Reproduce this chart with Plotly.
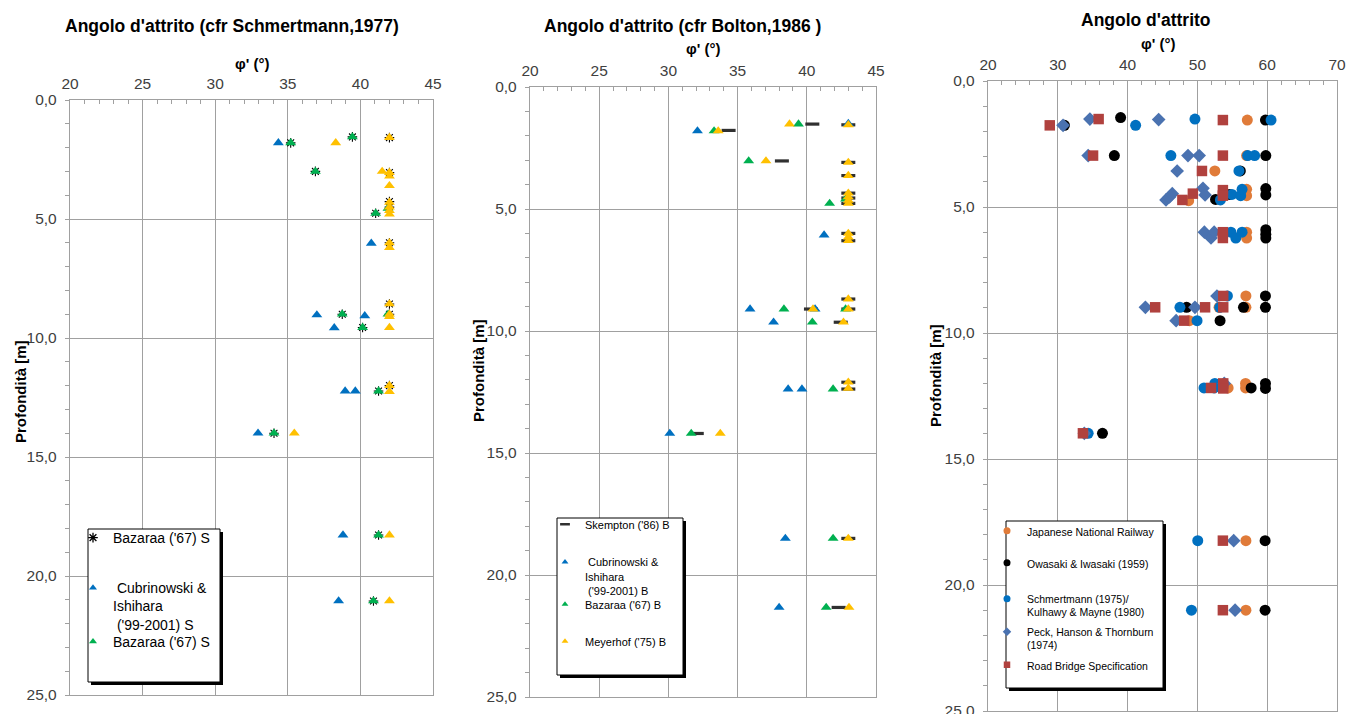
import plotly.graph_objects as go

W, H = 1348, 714
FONT = "Arial, Liberation Sans, sans-serif"

# ---------------- Panel 1: Schmertmann (1977) ----------------
P1_AST_PHI = [35.2, 39.45, 42.0, 36.9, 42.0, 42.0, 42.0, 41.05, 42.0, 42.0, 38.75, 42.0, 40.15, 42.0, 41.25, 34.05, 41.25, 40.9]
P1_AST_Z = [1.8, 1.55, 1.58, 3.0, 3.05, 4.27, 4.5, 4.76, 6.0, 8.57, 9.0, 9.0, 9.56, 12.0, 12.23, 14.0, 18.28, 21.05]

P1_CUB_PHI = [34.35, 40.75, 37.0, 40.3, 38.2, 38.95, 39.65, 32.95, 38.8, 38.5]
P1_CUB_Z = [1.8, 6.02, 9.03, 9.07, 9.57, 12.23, 12.23, 14.0, 18.28, 21.05]

P1_BAZ_PHI = [35.2, 39.45, 36.9, 41.05, 41.9, 38.75, 41.9, 40.15, 41.25, 34.05, 41.25, 40.9]
P1_BAZ_Z = [1.8, 1.55, 3.0, 4.76, 4.55, 9.0, 9.0, 9.56, 12.23, 14.0, 18.28, 21.05]

P1_MEY_PHI = [38.3, 42.0, 41.5, 42.0, 42.0, 42.0, 42.0, 42.0, 42.0, 42.0, 42.0, 42.0, 42.0, 42.0, 42.0, 42.0, 42.0, 42.0, 35.45, 42.0, 42.0]
P1_MEY_Z = [1.8, 1.58, 3.0, 3.05, 3.2, 3.6, 4.3, 4.5, 4.65, 4.8, 6.0, 6.2, 8.57, 9.0, 9.1, 9.56, 12.0, 12.25, 14.0, 18.28, 21.05]

# ---------------- Panel 2: Bolton (1986) ----------------
P2_SKE_PHI = [34.35, 40.4, 43.0, 38.2, 43.0, 43.0, 43.0, 43.0, 43.0, 43.0, 43.0, 43.0, 40.3, 43.0, 42.45, 43.0, 43.0, 32.05, 43.0, 42.3]
P2_SKE_Z = [1.78, 1.52, 1.55, 3.03, 3.09, 3.63, 4.35, 4.55, 4.77, 6.0, 6.3, 8.69, 9.1, 9.1, 9.64, 12.1, 12.38, 14.2, 18.5, 21.33]

P2_CUB_PHI = [32.1, 43.0, 41.25, 35.9, 40.6, 37.6, 38.65, 39.65, 30.1, 38.45, 38.0]
P2_CUB_Z = [1.8, 1.5, 6.07, 9.1, 9.1, 9.64, 12.38, 12.38, 14.2, 18.5, 21.33]

P2_BAZ_PHI = [33.3, 39.4, 35.8, 41.65, 42.8, 38.35, 42.8, 40.4, 41.9, 31.65, 41.9, 41.4]
P2_BAZ_Z = [1.8, 1.52, 3.03, 4.77, 4.6, 9.1, 9.1, 9.64, 12.38, 14.2, 18.5, 21.33]

P2_MEY_PHI = [33.6, 38.75, 43.0, 37.05, 43.0, 43.0, 43.0, 43.0, 43.0, 43.0, 43.0, 43.0, 43.0, 43.0, 40.45, 43.0, 42.65, 43.0, 43.0, 33.75, 43.0, 43.05]
P2_MEY_Z = [1.8, 1.52, 1.55, 3.03, 3.09, 3.63, 4.35, 4.5, 4.65, 4.77, 6.0, 6.15, 6.3, 8.69, 9.1, 9.1, 9.64, 12.1, 12.35, 14.2, 18.5, 21.33]

# ---------------- Panel 3: Angolo d'attrito ----------------
P3_JNR_PHI = [57.15, 57.05, 52.5, 48.75, 57.05, 57.05, 57.05, 57.05, 56.95, 53.1, 56.95, 48.85, 54.4, 56.9, 56.9, 56.95, 56.95]
P3_JNR_Z = [1.55, 2.96, 3.57, 4.75, 4.3, 4.55, 6.0, 6.23, 8.53, 8.98, 8.98, 9.51, 12.18, 12.0, 12.18, 18.24, 21.0]

P3_OWA_PHI = [30.95, 39.0, 59.75, 38.1, 59.8, 56.15, 52.6, 54.6, 59.8, 59.8, 59.8, 59.8, 59.8, 59.75, 48.45, 56.6, 59.75, 53.25, 57.7, 59.75, 59.75, 36.4, 59.7, 59.7]
P3_OWA_Z = [1.76, 1.45, 1.55, 2.96, 2.96, 3.57, 4.7, 4.5, 4.27, 4.52, 5.9, 6.08, 6.23, 8.53, 8.98, 8.98, 8.98, 9.51, 12.18, 12.0, 12.2, 13.98, 18.24, 21.0]

P3_SCH_PHI = [41.15, 49.65, 60.55, 46.2, 57.2, 58.2, 55.95, 53.3, 54.95, 56.2, 56.4, 54.8, 55.5, 56.4, 54.3, 47.5, 53.2, 49.95, 50.95, 52.4, 52.5, 34.35, 50.05, 49.15]
P3_SCH_Z = [1.76, 1.51, 1.55, 2.96, 2.96, 2.96, 3.57, 4.72, 4.5, 4.55, 4.3, 6.0, 6.23, 6.0, 8.53, 8.98, 8.98, 9.51, 12.18, 12.18, 12.0, 13.98, 18.24, 21.0]

P3_PEC_PHI = [30.75, 34.6, 44.45, 34.35, 48.65, 50.25, 47.1, 45.5, 46.0, 46.4, 50.8, 51.1, 51.0, 51.95, 52.4, 52.8, 42.55, 49.65, 46.95, 53.85, 33.8, 55.2, 55.4]
P3_PEC_Z = [1.76, 1.51, 1.53, 2.96, 2.96, 2.96, 3.57, 4.72, 4.6, 4.47, 4.26, 4.52, 6.0, 6.23, 6.0, 8.53, 8.98, 8.98, 9.51, 12.0, 13.98, 18.24, 21.0]

P3_RBS_PHI = [28.85, 35.85, 53.65, 35.05, 53.65, 50.65, 47.85, 49.35, 53.65, 53.65, 53.65, 53.65, 53.7, 43.95, 51.1, 53.7, 48.1, 51.95, 53.7, 53.7, 33.6, 53.65, 53.65]
P3_RBS_Z = [1.76, 1.51, 1.55, 2.96, 2.96, 3.57, 4.72, 4.47, 4.33, 4.55, 6.0, 6.23, 8.53, 8.98, 8.98, 8.98, 9.51, 12.18, 12.0, 12.2, 13.98, 18.24, 21.0]

# ---------------- texts ----------------
TITLES = ["Angolo d'attrito (cfr Schmertmann,1977)", "Angolo d'attrito (cfr Bolton,1986 )", "Angolo d'attrito"]
X_TITLE = "φ' (°)"
Y_TITLE = "Profondità [m]"
Y_TICKVALS = [0, 5, 10, 15, 20, 25]
Y_TICKTEXT = ["0,0", "5,0", "10,0", "15,0", "20,0", "25,0"]

C_BLUE = "#0070C0"
C_GREEN = "#00B050"
C_YELLOW = "#FFC000"
C_ORANGE = "#E07B39"
C_DIAM = "#4A72B0"
C_RED = "#B0413E"
GRID = "#A0A0A0"


def fx(p):
    return p / W


def fy(p):
    return 1 - p / H


fig = go.Figure()


def data_trace(phi, z, ax, symbol, color, size, lw=0, lcolor=None):
    xa, ya = ax
    fig.add_trace(go.Scatter(
        x=phi, y=z, mode="markers", xaxis=xa, yaxis=ya, showlegend=False,
        hoverinfo="skip",
        marker=dict(symbol=symbol, color=color, size=size,
                    line=dict(width=lw, color=lcolor if lcolor else color)),
    ))


def legend_trace(name, ax, legend, symbol, color, size, lw=0, lcolor=None):
    xa, ya = ax
    fig.add_trace(go.Scatter(
        x=[None], y=[None], mode="markers", xaxis=xa, yaxis=ya, showlegend=True,
        name=name, legend=legend,
        marker=dict(symbol=symbol, color=color, size=size,
                    line=dict(width=lw, color=lcolor if lcolor else color)),
    ))


A1, A2, A3 = ("x", "y"), ("x2", "y2"), ("x3", "y3")
TRI = 9.5

# panel 1
data_trace(P1_AST_PHI, P1_AST_Z, A1, "asterisk-open", "black", 8, 1.1, "#303030")
data_trace(P1_CUB_PHI, P1_CUB_Z, A1, "triangle-up", C_BLUE, TRI)
data_trace(P1_BAZ_PHI, P1_BAZ_Z, A1, "triangle-up", C_GREEN, TRI)
data_trace(P1_MEY_PHI, P1_MEY_Z, A1, "triangle-up", C_YELLOW, TRI)
legend_trace("Bazaraa ('67) S", A1, "legend", "asterisk-open", "black", 8, 1.3, "#202020")
legend_trace("\u00a0Cubrinowski &<br>Ishihara<br>\u00a0('99-2001) S", A1, "legend2", "triangle-up", C_BLUE, 7)
legend_trace("Bazaraa ('67) S", A1, "legend3", "triangle-up", C_GREEN, 7)

# panel 2
data_trace(P2_SKE_PHI, P2_SKE_Z, A2, "line-ew-open", "#303030", 10, 3.2, "#303030")
data_trace(P2_CUB_PHI, P2_CUB_Z, A2, "triangle-up", C_BLUE, TRI)
data_trace(P2_BAZ_PHI, P2_BAZ_Z, A2, "triangle-up", C_GREEN, TRI)
data_trace(P2_MEY_PHI, P2_MEY_Z, A2, "triangle-up", C_YELLOW, TRI)
legend_trace("Skempton ('86) B", A2, "legend4", "line-ew-open", "#303030", 7, 2.5, "#303030")
legend_trace("\u00a0Cubrinowski &<br>Ishihara<br>\u00a0('99-2001) B", A2, "legend5", "triangle-up", C_BLUE, 6)
legend_trace("Bazaraa ('67) B", A2, "legend6", "triangle-up", C_GREEN, 6)
legend_trace("Meyerhof ('75) B", A2, "legend7", "triangle-up", C_YELLOW, 6)

# panel 3
data_trace(P3_JNR_PHI, P3_JNR_Z, A3, "circle", C_ORANGE, 11)
data_trace(P3_OWA_PHI, P3_OWA_Z, A3, "circle", "black", 11)
data_trace(P3_SCH_PHI, P3_SCH_Z, A3, "circle", C_BLUE, 11)
data_trace(P3_PEC_PHI, P3_PEC_Z, A3, "diamond", C_DIAM, 10.5)
data_trace(P3_RBS_PHI, P3_RBS_Z, A3, "square", C_RED, 10.5)
legend_trace("Japanese National Railway", A3, "legend8", "circle", C_ORANGE, 7)
legend_trace("Owasaki & Iwasaki (1959)", A3, "legend9", "circle", "black", 7)
legend_trace("Schmertmann (1975)/<br>Kulhawy & Mayne (1980)", A3, "legend10", "circle", C_BLUE, 7)
legend_trace("Peck, Hanson & Thornburn<br>(1974)", A3, "legend11", "diamond", C_DIAM, 6.5)
legend_trace("Road Bridge Specification", A3, "legend12", "square", C_RED, 6.5)

# ---------------- axes ----------------
PLOTS = [  # left, right, top, bottom in px
    (70, 433, 100, 695),
    (530, 876, 87, 697),
    (988, 1337, 81, 711),
]
XRANGES = [[20, 45], [20, 45], [20, 70]]
XDTICK = [5, 5, 10]
XMINOR = [1, 1, 2]
TICKFONT = dict(family=FONT, size=15.5, color="#404040")

layout = {}
for i, (l, r, t, b) in enumerate(PLOTS):
    sfx = "" if i == 0 else str(i + 1)
    layout["xaxis" + sfx] = dict(
        domain=[fx(l), fx(r)], range=XRANGES[i], dtick=XDTICK[i], tick0=20,
        side="top", anchor="y" + sfx, showgrid=True, gridcolor=GRID, gridwidth=1.4,
        showline=True, mirror=True, linecolor=GRID, linewidth=1.4, zeroline=False,
        ticks="", tickfont=TICKFONT, ticklabelstandoff=4, automargin=False,
        ticklabeloverflow="allow",
        minor=dict(dtick=XMINOR[i], tick0=20, ticks="inside", ticklen=4, tickwidth=1,
                   tickcolor=GRID, showgrid=False),
        fixedrange=True,
    )
    layout["yaxis" + sfx] = dict(
        domain=[fy(b), fy(t)], range=[25, 0], anchor="x" + sfx,
        tickvals=Y_TICKVALS, ticktext=Y_TICKTEXT,
        showgrid=True, gridcolor=GRID, gridwidth=1.4,
        showline=True, mirror=True, linecolor=GRID, linewidth=1.4, zeroline=False,
        ticks="", tickfont=TICKFONT, ticklabelstandoff=9, automargin=False,
        ticklabeloverflow="allow",
        minor=dict(dtick=1, tick0=0, ticks="outside", ticklen=4, tickwidth=1,
                   tickcolor=GRID, showgrid=False),
        fixedrange=True,
    )

# ---------------- legends ----------------
def legend_cfg(left_px, center_px, size, nlines=1):
    lh = size * 1.3
    yc = center_px + (nlines - 1) * lh / 2
    return dict(x=fx(left_px), y=fy(yc), xanchor="left", yanchor="middle",
                bgcolor="rgba(0,0,0,0)", borderwidth=0, itemwidth=30, valign="top",
                font=dict(family=FONT, size=size, color="black"),
                itemclick=False, itemdoubleclick=False)


L1S, L2S, L3S = 14, 11, 10.5
legend_specs = [
    ("legend", 73, 538, L1S, 1),
    ("legend2", 73, 588, L1S, 3),
    ("legend3", 73, 642, L1S, 1),
    ("legend4", 545, 525, L2S, 1),
    ("legend5", 545, 562, L2S, 3),
    ("legend6", 545, 605, L2S, 1),
    ("legend7", 545, 642, L2S, 1),
    ("legend8", 987, 532, L3S, 1),
    ("legend9", 987, 564, L3S, 1),
    ("legend10", 987, 599, L3S, 2),
    ("legend11", 987, 632, L3S, 2),
    ("legend12", 987, 666, L3S, 1),
]
for key, lp, cp, sz, n in legend_specs:
    layout[key] = legend_cfg(lp, cp, sz, n)

# legend boxes with shadow
BOXES = [(88, 529, 220, 682), (557, 518, 683, 675), (1006, 521, 1163, 688)]
shapes = []
for (x0, y0, x1, y1) in BOXES:
    shapes.append(dict(type="rect", xref="paper", yref="paper", layer="above",
                       x0=fx(x0 + 3), x1=fx(x1 + 3), y0=fy(y1 + 3), y1=fy(y0 + 3),
                       fillcolor="black", line=dict(width=0)))
    shapes.append(dict(type="rect", xref="paper", yref="paper", layer="above",
                       x0=fx(x0), x1=fx(x1), y0=fy(y1), y1=fy(y0),
                       fillcolor="white", line=dict(width=1, color="black")))

# ---------------- titles ----------------
annotations = []
TITLE_POS = [(232, 26), (682, 26), (1146, 20)]
XT_POS = [(252, 63), (703, 49), (1158, 43)]
YT_POS = [(20, 392), (478, 370), (935, 376)]
for i in range(3):
    annotations.append(dict(text="<b>%s</b>" % TITLES[i], x=fx(TITLE_POS[i][0]), y=fy(TITLE_POS[i][1]),
                            xref="paper", yref="paper", showarrow=False, xanchor="center", yanchor="middle",
                            font=dict(family=FONT, size=17.5, color="black")))
    annotations.append(dict(text="<b>%s</b>" % X_TITLE, x=fx(XT_POS[i][0]), y=fy(XT_POS[i][1]),
                            xref="paper", yref="paper", showarrow=False, xanchor="center", yanchor="middle",
                            font=dict(family=FONT, size=15, color="black")))
    annotations.append(dict(text="<b>%s</b>" % Y_TITLE, x=fx(YT_POS[i][0]), y=fy(YT_POS[i][1]),
                            xref="paper", yref="paper", showarrow=False, xanchor="center", yanchor="middle",
                            textangle=-90, font=dict(family=FONT, size=15, color="black")))

fig.update_layout(
    width=W, height=H, autosize=False,
    margin=dict(l=0, r=0, t=0, b=0, autoexpand=False),
    paper_bgcolor="white", plot_bgcolor="white",
    shapes=shapes, annotations=annotations,
    font=dict(family=FONT),
    **layout,
)

fig.write_html("out.html", config={"displayModeBar": False})
